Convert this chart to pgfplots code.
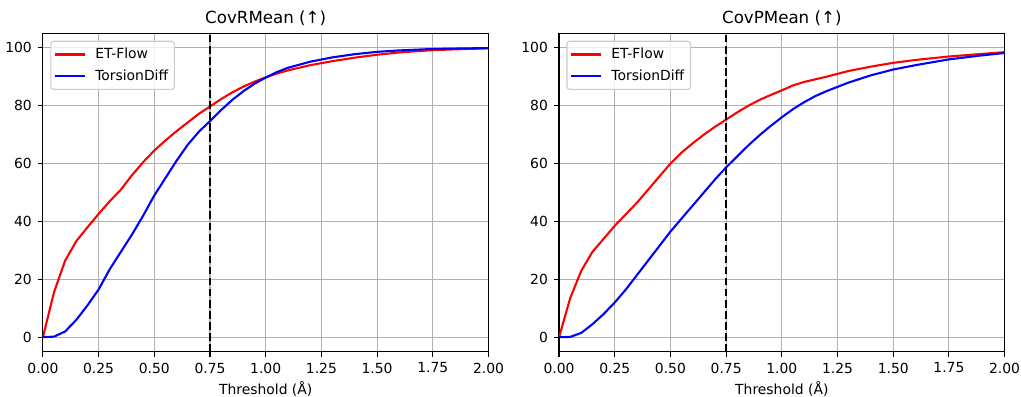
\documentclass[border=0pt]{standalone}
\usepackage{fontspec}
\setmainfont{DejaVu Sans}
\usepackage{pgfplots}
\pgfplotsset{compat=1.18}

\definecolor{gridgray}{HTML}{B0B0B0}
\definecolor{legframe}{HTML}{CCCCCC}

\pgfplotsset{
  mpl/.style={
    scale only axis,
    width=320.8bp, height=229.2bp,
    xmin=0, xmax=2, ymin=-5, ymax=105,
    xtick={0,0.25,0.5,0.75,1,1.25,1.5,1.75,2},
    ytick={0,20,40,60,80,100},
    xtick pos=bottom, ytick pos=left,
    tick align=outside,
    major tick length=3.5bp,
    every tick/.style={black, line width=0.8bp},
    axis line style={black, line width=0.8bp},
    grid=major,
    major grid style={gridgray, line width=0.8bp},
    /pgf/number format/assume math mode=true,
    xticklabel={\pgfmathprintnumber[fixed, fixed zerofill, precision=2]{\tick}},
    yticklabel={\pgfmathprintnumber[fixed, precision=0]{\tick}},
    tick label style={font=\fontsize{10bp}{12bp}\selectfont},
    xticklabel style={yshift=-1bp},
    yticklabel style={xshift=-1bp},
    xlabel={Threshold (Å)},
    xlabel style={font=\fontsize{10bp}{12bp}\selectfont, yshift=1bp},
    title style={font=\fontsize{12bp}{14bp}\selectfont, yshift=-4bp},
    legend cell align=left,
    legend image code/.code={\draw[#1] (0bp,0bp) -- (21.6bp,0bp); \path (26bp,0bp);},
    legend style={at={(0,1)}, anchor=north west, xshift=5.3bp, yshift=-5.3bp,
      draw=legframe, line width=0.8bp, rounded corners=2bp, fill=white, fill opacity=0.8, text opacity=1,
      font=\fontsize{10bp}{12bp}\selectfont, inner xsep=2.5bp, inner ysep=3bp, row sep=2.5bp},
  },
  et/.style={red, line width=1.5bp},
  td/.style={blue, line width=1.5bp},
  vline/.style={black, line width=1.5bp, dash pattern=on 5.55bp off 2.4bp, forget plot},
}

\begin{document}
\begin{tikzpicture}
\useasboundingbox (0,0) rectangle (735.1bp,285.8bp);

\begin{axis}[mpl, at={(30.9bp,32.6bp)}, anchor=south west, title={CovRMean (↑)}]
\addplot[et] coordinates {
(0,0) (0.05,15.6) (0.1,26.5) (0.15,33.2) (0.2,38) (0.25,42.6) (0.3,47) (0.35,51)
(0.4,56) (0.45,60.5) (0.5,64.5) (0.55,68) (0.6,71.2) (0.65,74.2) (0.7,77.2) (0.75,79.7)
(0.8,82.3) (0.85,84.6) (0.9,86.6) (0.95,88.3) (1.0,89.8) (1.05,91.1) (1.1,92.2)
(1.2,94) (1.3,95.4) (1.4,96.6) (1.5,97.6) (1.6,98.4) (1.75,99.2) (1.9,99.6) (2.0,99.8)
};
\addlegendentry{ET-Flow}
\addplot[td] coordinates {
(0,0) (0.05,0.2) (0.1,2) (0.15,6) (0.2,11) (0.25,16.5) (0.3,23.5) (0.35,29.5)
(0.4,35.5) (0.45,42) (0.5,49) (0.55,55) (0.6,61) (0.65,66.5) (0.7,71) (0.75,74.7)
(0.8,78.5) (0.85,82) (0.9,85) (0.95,87.6) (1.0,89.7) (1.05,91.6) (1.1,93.1)
(1.2,95.2) (1.3,96.7) (1.4,97.8) (1.5,98.6) (1.6,99.1) (1.75,99.6) (1.9,99.8) (2.0,99.9)
};
\addlegendentry{TorsionDiff}
\addplot[vline] coordinates {(0.75,-5) (0.75,105)};
\end{axis}

\begin{axis}[mpl, at={(402.5bp,32.6bp)}, anchor=south west, title={CovPMean (↑)}]
\addplot[et] coordinates {
(0,0) (0.05,13.5) (0.1,23) (0.15,29.5) (0.2,34) (0.25,38.5) (0.3,42.5) (0.35,46.5)
(0.4,51) (0.45,55.5) (0.5,60) (0.55,63.8) (0.6,67) (0.65,70) (0.7,72.7) (0.75,75.2)
(0.8,77.7) (0.85,80) (0.9,82) (0.95,83.7) (1.0,85.3) (1.05,87) (1.1,88.2)
(1.2,90) (1.25,91) (1.3,92) (1.4,93.5) (1.5,94.8) (1.6,95.8) (1.75,97) (1.9,97.9) (2.0,98.5)
};
\addlegendentry{ET-Flow}
\addplot[td] coordinates {
(0,0) (0.05,0.1) (0.1,1.5) (0.15,4.5) (0.2,8) (0.25,12) (0.3,16.5) (0.35,21.5)
(0.4,26.5) (0.45,31.5) (0.5,36.5) (0.55,41) (0.6,45.5) (0.65,50) (0.7,54.5) (0.75,58.7)
(0.8,62.5) (0.85,66.3) (0.9,69.8) (0.95,73) (1.0,76) (1.05,78.8) (1.1,81.2) (1.15,83.3)
(1.2,85) (1.25,86.5) (1.3,88) (1.4,90.5) (1.5,92.5) (1.6,94) (1.75,96) (1.9,97.4) (2.0,98.2)
};
\addlegendentry{TorsionDiff}
\addplot[vline] coordinates {(0.75,-5) (0.75,105)};
\end{axis}
\end{tikzpicture}
\end{document}
